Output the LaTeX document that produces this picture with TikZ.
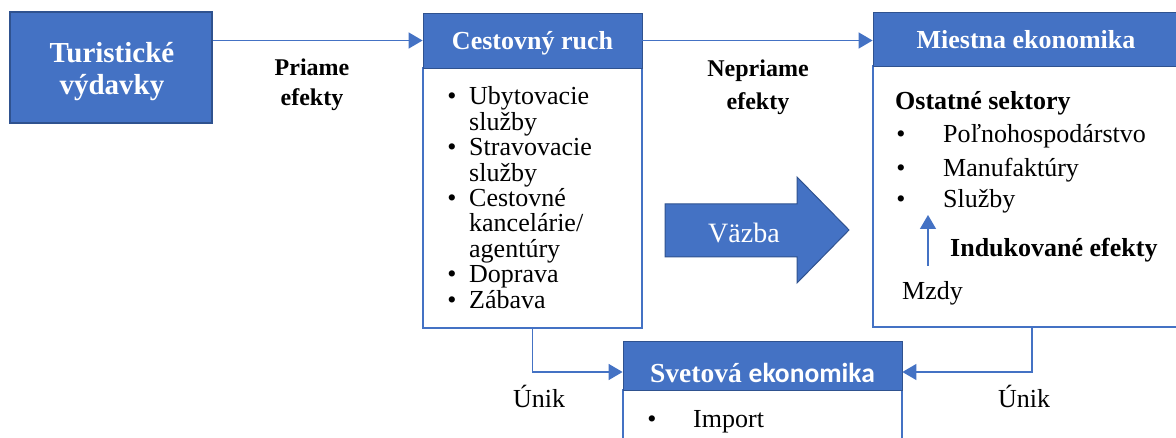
\documentclass[tikz,border=0pt]{standalone}
\usepackage{fontspec}
\setmainfont{Liberation Serif}
\newfontfamily\calib{Carlito}
\usetikzlibrary{arrows.meta}
\definecolor{wblue}{HTML}{4472C4}
\definecolor{wdark}{HTML}{2F528F}
\begin{document}
\begin{tikzpicture}[x=1pt,y=-1pt,
  conn/.style={draw=wblue, line width=1.4pt, -{Triangle[length=14pt,width=16pt]}},
  hdr/.style={fill=wblue, draw=wdark, line width=0.8pt, text=white, font=\fontsize{26}{30}\selectfont\bfseries, inner sep=0pt, text depth=0pt},
  bodybox/.style={draw=wblue, line width=2.4pt, fill=white, inner sep=0pt},
  txt/.style={font=\fontsize{26}{30}\selectfont, anchor=base west, inner sep=0pt},
  btxt/.style={txt, font=\fontsize{26}{30}\selectfont\bfseries},
  lbl/.style={font=\fontsize{24}{30}\selectfont\bfseries, anchor=base, inner sep=0pt},
  bul/.style={txt, anchor=base},
]
\useasboundingbox (0,0) rectangle (1176,438);
\clip (0,0) rectangle (1176,438);

% Turisticke vydavky
\node[fill=wblue, draw=wdark, line width=1.5pt, minimum width=202pt, minimum height=111pt, inner sep=0pt]
      (turist) at (111,67.5) {};
\node[font=\fontsize{29}{32}\selectfont\bfseries, text=white, anchor=base, inner sep=0pt] (tur1) at (112,63) {Turistické};
\node[font=\fontsize{29}{32}\selectfont\bfseries, text=white, anchor=base, inner sep=0pt] (tur2) at (112,95) {výdavky};

% Cestovny ruch
\node[bodybox, minimum width=219pt, minimum height=260pt] (cestb) at (532.5,198) {};
\node[hdr, minimum width=219pt, minimum height=55pt, text height=19pt] (cesth) at (532.5,40.5) {Cestovný ruch};
\foreach \t [count=\i] in {Ubytovacie,služby,Stravovacie,služby,Cestovné,kancelárie/,agentúry,Doprava,Zábava}
  \node[txt] (cl\i) at (469,{105+25.4*(\i-1)}) {\t};
\foreach \i in {1,3,5,8,9}
  \node[bul] (cb\i) at (452,{105+25.4*(\i-1)}) {\textbullet};

% Miestna ekonomika
\node[bodybox, minimum width=312pt, minimum height=261pt] (miesb) at (1029,196.5) {};
\node[hdr, minimum width=312pt, minimum height=54pt, text height=19pt] (miesh) at (1029,39) {\hspace*{-6pt}Miestna ekonomika};
\node[btxt] (ost) at (895,110) {Ostatné sektory};
\node[bul] (mb1) at (901,143) {\textbullet};
\node[bul] (mb2) at (901,177) {\textbullet};
\node[bul] (mb3) at (901,208) {\textbullet};
\node[txt] (m1) at (943,143) {Poľnohospodárstvo};
\node[txt] (m2) at (943,177) {Manufaktúry};
\node[txt] (m3) at (943,208) {Služby};
\node[btxt] (ind) at (950,257) {Indukované efekty};
\node[txt] (mzdy) at (902,300) {Mzdy};
\coordinate (upA) at (928,266);
\coordinate (upB) at (928,215);
\draw[conn] (upA) -- (upB);

% Svetova ekonomika
\node[bodybox, minimum width=279pt, minimum height=80pt] (svb) at (762.5,430) {};
\node[hdr, minimum width=279pt, minimum height=49pt, text height=33pt,
      font=\fontsize{27.5}{30}\selectfont\bfseries] (svh) at (762.5,365.5)
  {Svetová {\calib\bfseries ekonomika}};
\node[bul] (sb1) at (652,428) {\textbullet};
\node[txt] (imp) at (693,428) {Import};

% Vazba arrow
\draw[fill=wblue, draw=wdark, line width=1pt] (665,204) -- (797,204) -- (797,177) -- (849,230)
  -- (797,283) -- (797,257) -- (665,257) -- cycle;
\node[txt, text=white, font=\fontsize{28}{30}\selectfont] (vazba) at (708,243) {Väzba};

% connectors
\draw[conn] (turist.east |- cesth.west) -- (cesth.west);
\draw[conn] (cesth.east) -- (cesth.east -| miesh.west);
\draw[conn] (cestb.south) |- ([yshift=-6.5pt]svh.west);
\draw[conn] ([xshift=3pt]miesb.south) |- ([yshift=-6.5pt]svh.east);

% labels
\node[lbl] (pr1) at (312,76) {Priame};
\node[lbl] (pr2) at (312,106) {efekty};
\node[lbl] (np1) at (758,77) {Nepriame};
\node[lbl] (np2) at (758,110) {efekty};
\node[txt] (unik1) at (513,407) {Únik};
\node[txt] (unik2) at (998,407) {Únik};
\end{tikzpicture}
\end{document}
